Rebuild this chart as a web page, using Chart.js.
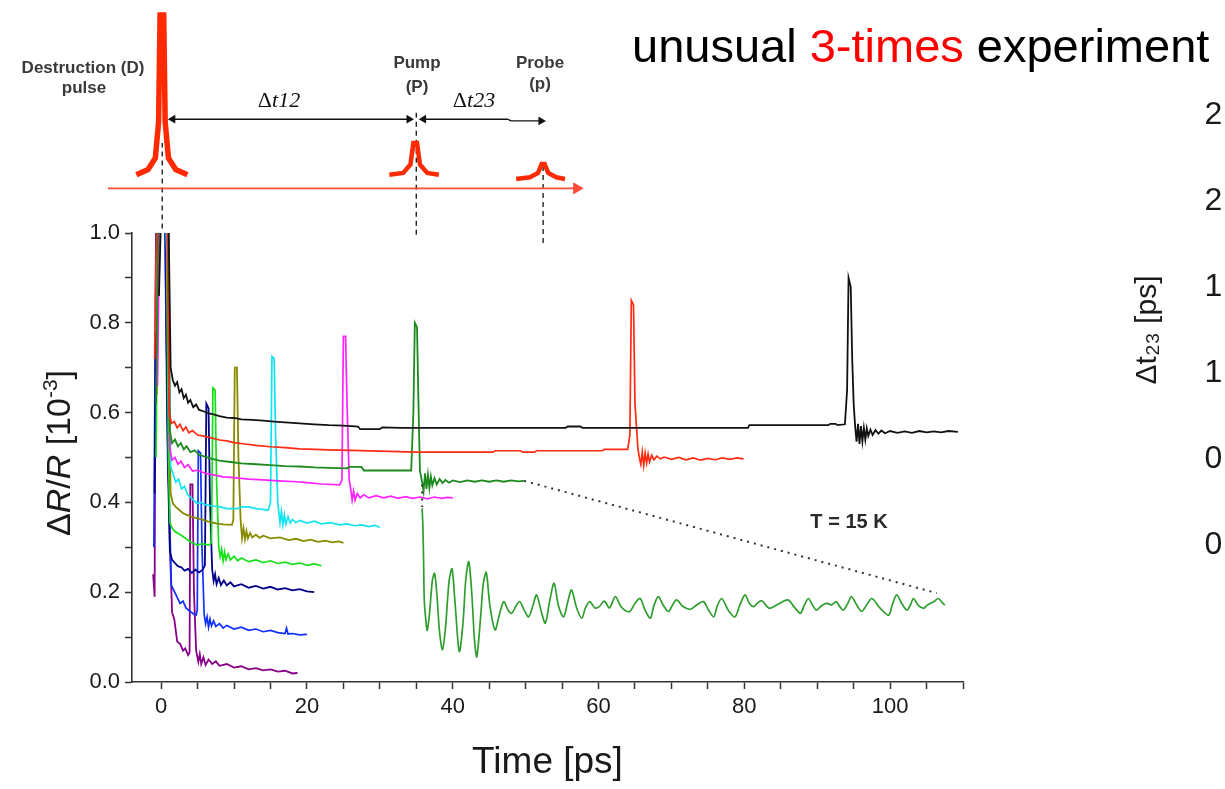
<!DOCTYPE html>
<html>
<head>
<meta charset="utf-8">
<script src="https://cdn.jsdelivr.net/npm/chart.js@4.4.1/dist/chart.umd.min.js"></script>
<style>
  html, body { margin: 0; padding: 0; background: #ffffff; overflow: hidden; }
  #wrap { position: relative; width: 1225px; height: 789px; overflow: hidden; }
  #main { position: absolute; left: 0; top: 0; }
  #scheme { position: absolute; left: 0; top: 0; }
  #side { position: absolute; left: 1080px; top: 0; }
</style>
</head>
<body>
<div id="wrap">
  <canvas id="main" width="1225" height="789"></canvas>
  <canvas id="scheme" width="1225" height="252"></canvas>
  <canvas id="side" width="300" height="789"></canvas>
</div>
<script>
// ---- tick labels ----
const timeTickLabels = [0, 20, 40, 60, 80, 100];
const signalTickLabels = [0.0, 0.2, 0.4, 0.6, 0.8, 1.0];
const dt23TickLabels = [0.0, 0.5, 1.0, 1.5, 2.0, 2.5];

// ---- measured traces [time ps, dR/R 1e-3], one per delay dt12 ----
const traceBlack = [[-0.3,0.86],[0.0,1.05],[1.0,1.05],[1.3,0.70],[1.6,0.672],[1.9,0.66],[2.2,0.668],[2.5,0.645],[2.8,0.652],[3.1,0.632],[3.4,0.64],[3.7,0.622],[4.0,0.628],[4.4,0.612],[4.8,0.618],[5.2,0.606],[5.8,0.603],[6.5,0.598],[7.2,0.596],[8.0,0.592],[9.0,0.589],[10.0,0.588],[11.0,0.585],[12.5,0.584],[14.0,0.582],[15.5,0.580],[17.0,0.578],[19.0,0.576],[21.0,0.574],[23.0,0.572],[25.0,0.571],[27.0,0.569],[27.3,0.563],[30.0,0.563],[30.3,0.567],[33.0,0.566],[55.5,0.566],[55.8,0.569],[57.5,0.569],[57.8,0.566],[80.5,0.566],[80.7,0.572],[91.5,0.572],[91.8,0.575],[92.5,0.575],[92.8,0.572],[93.8,0.574],[94.1,0.65],[94.3,0.90],[94.6,0.88],[94.8,0.72],[95.0,0.62],[95.2,0.57],[95.4,0.535],[95.6,0.575],[95.8,0.530],[96.0,0.570],[96.2,0.536],[96.4,0.566],[96.6,0.540],[96.8,0.565],[97.0,0.548],[97.3,0.562],[97.6,0.550],[98.0,0.561],[98.4,0.553],[98.8,0.560],[99.3,0.554],[100,0.559],[101,0.555],[102,0.558],[103,0.555],[104,0.559],[105,0.556],[106,0.558],[107,0.556],[108,0.559],[109.3,0.557]];
const traceRed = [[-0.9,0.72],[-0.6,1.05],[0.8,1.05],[1.1,0.60],[1.4,0.576],[1.8,0.58],[2.2,0.566],[2.6,0.574],[3.0,0.56],[3.4,0.568],[3.8,0.555],[4.3,0.56],[5.0,0.55],[6.0,0.547],[7.0,0.543],[8.0,0.539],[9.0,0.537],[10.0,0.533],[11.5,0.53],[13.0,0.527],[15.0,0.524],[17.0,0.522],[19.0,0.519],[21.0,0.518],[23.0,0.517],[26.0,0.516],[30.0,0.514],[35.0,0.512],[45.5,0.512],[45.8,0.515],[49.3,0.515],[49.6,0.512],[51.2,0.512],[51.5,0.515],[60.5,0.515],[60.8,0.518],[64.0,0.518],[64.3,0.55],[64.5,0.85],[64.8,0.84],[65.0,0.62],[65.4,0.52],[65.6,0.50],[65.8,0.485],[66.0,0.512],[66.2,0.482],[66.4,0.51],[66.6,0.488],[66.8,0.508],[67.0,0.49],[67.3,0.505],[67.6,0.495],[68.0,0.503],[68.5,0.497],[69,0.501],[70,0.496],[71,0.5],[72,0.495],[73,0.499],[74,0.494],[75,0.498],[76,0.495],[77,0.499],[78,0.496],[79,0.499],[79.9,0.497]];
const traceDarkGreen = [[-0.7,0.62],[-0.4,1.05],[1.0,1.05],[1.2,0.56],[1.5,0.532],[1.9,0.54],[2.3,0.525],[2.7,0.532],[3.1,0.518],[3.5,0.525],[4.0,0.512],[4.6,0.516],[5.2,0.506],[6.0,0.502],[7.0,0.497],[8.0,0.493],[9.5,0.49],[11.0,0.487],[13.0,0.485],[15.0,0.483],[17.0,0.481],[19.0,0.48],[21.0,0.478],[23.0,0.477],[25.5,0.476],[25.8,0.479],[27.5,0.479],[27.8,0.471],[34.3,0.471],[34.6,0.60],[34.8,0.80],[35.1,0.79],[35.3,0.62],[35.5,0.47],[35.8,0.445],[36.0,0.425],[36.2,0.465],[36.4,0.43],[36.6,0.462],[36.8,0.432],[37.0,0.458],[37.2,0.438],[37.5,0.454],[37.8,0.44],[38.2,0.452],[38.6,0.443],[39.0,0.45],[39.5,0.444],[40,0.449],[41,0.445],[42,0.449],[43,0.446],[44,0.449],[45,0.446],[46,0.449],[47,0.446],[48,0.449],[49,0.447],[49.8,0.448]];
const traceMagenta = [[-0.5,0.66],[-0.2,1.05],[0.9,1.05],[1.2,0.52],[1.5,0.494],[1.9,0.50],[2.3,0.485],[2.7,0.492],[3.2,0.478],[3.7,0.484],[4.3,0.47],[5.0,0.472],[6.0,0.465],[7.0,0.462],[8.5,0.457],[10,0.455],[12,0.452],[14,0.45],[16,0.448],[18.6,0.446],[20,0.444],[22,0.441],[24.5,0.439],[24.8,0.45],[25.0,0.77],[25.3,0.77],[25.5,0.62],[25.8,0.45],[26.0,0.43],[26.2,0.405],[26.4,0.425],[26.6,0.405],[26.9,0.42],[27.3,0.41],[27.8,0.417],[28.5,0.41],[29.5,0.415],[30.5,0.41],[31.5,0.414],[32.5,0.409],[33.5,0.413],[34.5,0.409],[35.5,0.412],[36.5,0.408],[37.5,0.412],[38.5,0.409],[39.3,0.411],[40.0,0.41]];
const traceCyan = [[-0.8,0.78],[-0.5,1.05],[0.6,1.05],[1.0,0.85],[1.3,0.48],[1.6,0.465],[2.0,0.445],[2.4,0.452],[2.8,0.43],[3.2,0.436],[3.6,0.418],[4.1,0.41],[4.9,0.398],[5.5,0.40],[6.0,0.395],[7.0,0.392],[8.1,0.39],[9.0,0.386],[10.4,0.386],[11.0,0.39],[12.0,0.39],[13.0,0.386],[14.7,0.383],[15.0,0.40],[15.2,0.725],[15.5,0.72],[15.7,0.55],[16.0,0.40],[16.3,0.355],[16.5,0.38],[16.7,0.35],[16.9,0.372],[17.1,0.352],[17.4,0.368],[17.7,0.354],[18.0,0.362],[18.5,0.355],[19.0,0.36],[20.0,0.354],[21.0,0.358],[22.0,0.352],[23.2,0.355],[24.5,0.35],[25.5,0.352],[26.5,0.348],[27.5,0.35],[28.5,0.346],[29.3,0.349],[30.0,0.344]];
const traceOlive = [[-0.6,0.64],[-0.3,1.05],[0.9,1.05],[1.1,0.6],[1.3,0.42],[1.6,0.398],[2.0,0.39],[2.5,0.383],[3.0,0.376],[3.5,0.372],[4.2,0.368],[4.9,0.365],[5.5,0.362],[6.5,0.357],[7.6,0.353],[8.5,0.351],[9.7,0.35],[9.9,0.36],[10.1,0.70],[10.4,0.70],[10.6,0.50],[10.9,0.36],[11.1,0.32],[11.3,0.342],[11.5,0.318],[11.7,0.336],[11.9,0.32],[12.2,0.332],[12.5,0.322],[13.0,0.328],[13.5,0.321],[14.0,0.326],[15.0,0.32],[16.3,0.322],[17.5,0.316],[18.5,0.319],[19.5,0.314],[20.5,0.317],[21.5,0.312],[22.5,0.315],[23.5,0.311],[24.4,0.313],[25.0,0.31]];
const traceGreen = [[-0.7,0.50],[-0.4,1.05],[0.7,1.05],[1.0,0.5],[1.2,0.355],[1.5,0.343],[1.9,0.335],[2.4,0.33],[2.9,0.325],[3.5,0.318],[4.2,0.31],[5.0,0.305],[5.6,0.308],[6.5,0.305],[6.9,0.31],[7.1,0.655],[7.4,0.65],[7.6,0.45],[7.9,0.30],[8.1,0.279],[8.3,0.295],[8.5,0.27],[8.7,0.29],[8.9,0.272],[9.2,0.285],[9.5,0.272],[10.0,0.28],[10.5,0.27],[11.0,0.276],[12.0,0.268],[13.0,0.272],[14.0,0.266],[15.0,0.27],[16.0,0.264],[17.0,0.267],[18.0,0.262],[19.0,0.265],[20.0,0.26],[21.0,0.263],[22.0,0.259]];
const traceNavy = [[-0.9,0.42],[-0.6,1.05],[0.6,1.05],[0.9,0.5],[1.2,0.29],[1.5,0.272],[1.9,0.265],[2.3,0.258],[2.8,0.255],[3.2,0.248],[3.7,0.252],[4.2,0.243],[4.7,0.25],[5.2,0.244],[5.7,0.25],[6.0,0.26],[6.2,0.62],[6.5,0.61],[6.7,0.40],[7.0,0.25],[7.2,0.225],[7.4,0.24],[7.6,0.218],[7.9,0.232],[8.2,0.216],[8.6,0.226],[9.0,0.215],[9.5,0.222],[10.0,0.213],[11.0,0.218],[12.0,0.21],[13.0,0.214],[14.0,0.208],[15.0,0.212],[16.0,0.206],[17.0,0.209],[18.0,0.204],[19.0,0.207],[20.0,0.202],[21.0,0.2]];
const traceBlue = [[-1.0,0.30],[-0.7,1.05],[0.5,1.05],[0.8,0.6],[1.1,0.4],[1.4,0.215],[2.0,0.195],[2.6,0.175],[3.0,0.18],[3.4,0.165],[3.9,0.158],[4.4,0.152],[4.8,0.149],[4.95,0.16],[5.1,0.515],[5.4,0.51],[5.6,0.30],[5.9,0.15],[6.1,0.13],[6.3,0.145],[6.5,0.122],[6.7,0.14],[6.9,0.125],[7.2,0.136],[7.5,0.124],[8.0,0.13],[8.5,0.12],[9.0,0.126],[10.0,0.118],[11.0,0.122],[12.0,0.115],[13.0,0.118],[14.0,0.112],[15.0,0.115],[16.0,0.11],[17.0,0.108],[17.2,0.12],[17.4,0.107],[18.0,0.108],[19.0,0.105],[20.0,0.106]];
const tracePurple = [[-1.1,0.24],[-0.9,0.19],[-0.7,1.05],[0.5,1.05],[0.8,0.7],[1.2,0.3],[1.5,0.155],[1.8,0.14],[2.2,0.09],[2.6,0.085],[3.0,0.07],[3.3,0.075],[3.7,0.06],[3.9,0.065],[4.0,0.44],[4.3,0.44],[4.5,0.2],[4.8,0.07],[5.1,0.045],[5.3,0.062],[5.5,0.04],[5.8,0.055],[6.1,0.038],[6.5,0.05],[7.0,0.04],[7.5,0.046],[8.0,0.036],[9.0,0.04],[10.0,0.032],[11.0,0.035],[12.0,0.028],[13.0,0.031],[14.0,0.026],[15.0,0.028],[16.0,0.023],[17.0,0.025],[18.0,0.019],[18.7,0.02]];
// magnified probe response of the dt12 = 35 ps trace
const traceZoomed = [[35.8,0.387],[35.9,0.35],[36.0,0.272],[36.1,0.18],[36.3,0.14],[36.5,0.115],[36.8,0.15],[37.2,0.225],[37.5,0.242],[37.8,0.2],[38.2,0.11],[38.6,0.072],[39.0,0.12],[39.5,0.225],[39.9,0.252],[40.3,0.18],[40.9,0.068],[41.4,0.13],[41.8,0.23],[42.2,0.268],[42.6,0.2],[43.0,0.09],[43.3,0.056],[43.8,0.14],[44.2,0.22],[44.6,0.244],[45.1,0.17],[45.8,0.116],[46.4,0.15],[47.0,0.179],[47.6,0.16],[48.1,0.153],[48.7,0.17],[49.2,0.179],[49.8,0.16],[50.4,0.145],[51.0,0.17],[51.5,0.194],[52.1,0.16],[52.7,0.131],[53.3,0.18],[53.9,0.22],[54.5,0.17],[55.2,0.145],[55.8,0.18],[56.3,0.205],[57.0,0.165],[57.7,0.142],[58.2,0.165],[58.8,0.179],[59.5,0.165],[60.1,0.168],[60.8,0.18],[61.5,0.165],[62.3,0.19],[63.0,0.17],[63.6,0.16],[64.3,0.157],[65.0,0.175],[65.7,0.186],[66.4,0.16],[67.1,0.142],[67.6,0.17],[68.2,0.19],[68.9,0.17],[69.6,0.157],[70.1,0.17],[70.7,0.183],[71.6,0.168],[72.6,0.162],[73.5,0.172],[74.4,0.179],[75.1,0.16],[75.8,0.145],[76.3,0.17],[76.9,0.186],[77.8,0.16],[78.7,0.145],[79.4,0.172],[80.1,0.194],[80.7,0.175],[81.3,0.168],[81.8,0.176],[82.4,0.181],[83.0,0.17],[83.5,0.164],[84.8,0.175],[86.0,0.183],[86.8,0.168],[87.7,0.153],[88.2,0.17],[88.8,0.186],[89.4,0.17],[89.9,0.16],[90.6,0.17],[91.3,0.175],[92.0,0.172],[92.6,0.179],[93.1,0.168],[93.6,0.16],[94.2,0.175],[94.7,0.19],[95.4,0.172],[96.1,0.157],[96.8,0.172],[97.5,0.186],[98.6,0.165],[99.8,0.149],[100.3,0.172],[100.9,0.194],[101.6,0.175],[102.3,0.16],[102.8,0.172],[103.2,0.186],[103.9,0.17],[104.6,0.164],[105.0,0.17],[105.5,0.175],[106.1,0.18],[106.6,0.186],[107.1,0.178],[107.5,0.171]];
const zoomGuide = [[49.8,0.448],[106.4,0.198]];
const zoomGuideDrop = [[35.8,0.44],[35.8,0.39]];

// ---- pulse scheme above the plot (same time axis, same signal units) ----
const schemeAxis = [[-7.3,1.094],[57.0,1.094]];
const destructionPulse = [[-3.4,1.126],[-1.8,1.138],[-0.8,1.165],[-0.35,1.25],[-0.15,1.50],[0.35,1.50],[0.55,1.25],[1.0,1.165],[2.0,1.138],[3.6,1.126]];
const pumpPulse = [[31.3,1.126],[33.2,1.13],[34.2,1.15],[34.6,1.2],[35.1,1.2],[35.5,1.15],[36.5,1.13],[38.1,1.126]];
const probePulse = [[48.7,1.116],[50.6,1.12],[51.7,1.13],[52.2,1.151],[52.6,1.151],[53.1,1.13],[54.2,1.12],[55.4,1.116]];
const destructionMark = [[0.15,1.0],[0.15,1.2]];
const pumpMark = [[35.0,0.985],[35.0,1.28]];
const probeMark = [[52.4,0.966],[52.4,1.145]];
const dt12Arrow = [[1.6,1.256],[34.0,1.256]];
const dt23Arrow = [[36.0,1.256],[47.5,1.256],[48.0,1.252],[52.1,1.252]];

const FONT = 'Arial, "Liberation Sans", sans-serif';
Chart.defaults.font.family = FONT;
Chart.defaults.color = '#1a1a1a';

function trace(data, color, width, tension) {
  return { data: data, borderColor: color, borderWidth: width || 1.7, pointRadius: 0, tension: tension || 0, fill: false };
}

function dashed(data, color, dash, width) {
  return { data: data, borderColor: color, borderWidth: width || 1.5, borderDash: dash, pointRadius: 0, fill: false, clip: false };
}

function arrow(data, color, width, size, both) {
  return {
    data: data, borderColor: color, backgroundColor: color, borderWidth: width, fill: false, clip: false,
    pointStyle: 'triangle', pointBorderWidth: 0, pointBorderColor: color, pointBackgroundColor: color,
    pointRadius: function(ctx) {
      const last = ctx.dataset.data.length - 1;
      if (ctx.dataIndex === last) return size;
      return both && ctx.dataIndex === 0 ? size : 0;
    },
    pointRotation: function(ctx) { return ctx.dataIndex === 0 ? -90 : 90; }
  };
}

function drawRuns(ctx, x, y, runs, align) {
  let total = 0;
  runs.forEach(function(r) { ctx.font = r.font; r.w = ctx.measureText(r.text).width; total += r.w; });
  let cx = align === 'center' ? x - total / 2 : x;
  ctx.textAlign = 'left';
  ctx.textBaseline = 'alphabetic';
  runs.forEach(function(r) {
    ctx.font = r.font;
    ctx.fillStyle = r.color || '#1a1a1a';
    ctx.fillText(r.text, cx, y + (r.dy || 0));
    cx += r.w;
  });
}

const labelsPlugin = {
  id: 'labels',
  afterDraw: function(chart) {
    const ctx = chart.ctx;
    ctx.save();
    // headline
    const big = '47px ' + FONT;
    drawRuns(ctx, 632, 62, [
      { text: 'unusual ', font: big, color: '#000' },
      { text: '3-times', font: big, color: '#ff0000' },
      { text: ' experiment', font: big, color: '#000' }
    ], 'left');

    // scheme labels
    const small = 'bold 17px ' + FONT;
    const grey = '#3a3a3a';
    drawRuns(ctx, 83, 73, [{ text: 'Destruction (D)', font: small, color: grey }], 'center');
    drawRuns(ctx, 84, 93, [{ text: 'pulse', font: small, color: grey }], 'center');
    drawRuns(ctx, 417, 68, [{ text: 'Pump', font: small, color: grey }], 'center');
    drawRuns(ctx, 417, 92, [{ text: '(P)', font: small, color: grey }], 'center');
    drawRuns(ctx, 540, 68, [{ text: 'Probe', font: small, color: grey }], 'center');
    drawRuns(ctx, 540, 89, [{ text: '(p)', font: small, color: grey }], 'center');
    const serif = '22px "Liberation Serif", "Times New Roman", serif';
    const serifIt = 'italic 22px "Liberation Serif", "Times New Roman", serif';
    drawRuns(ctx, 279, 107, [
      { text: '\u0394', font: serif, color: '#111' },
      { text: 't12', font: serifIt, color: '#111' }
    ], 'center');
    drawRuns(ctx, 474, 107, [
      { text: '\u0394', font: serif, color: '#111' },
      { text: 't23', font: serifIt, color: '#111' }
    ], 'center');

    // temperature note
    drawRuns(ctx, 849, 528, [{ text: 'T = 15 K', font: 'bold 20px ' + FONT, color: '#2a2a2a' }], 'center');

    // y axis title
    ctx.translate(58, 453);
    ctx.rotate(-Math.PI / 2);
    const t = '34px ' + FONT;
    const ti = 'italic 34px ' + FONT;
    drawRuns(ctx, 0, 12, [
      { text: '\u0394', font: t },
      { text: 'R', font: ti },
      { text: '/', font: t },
      { text: 'R', font: ti },
      { text: ' [10', font: t },
      { text: '-3', font: '21px ' + FONT, dy: -13 },
      { text: ']', font: t }
    ], 'center');
    ctx.restore();
  }
};

const timeAxisBase = { type: 'linear', min: -4, max: 110 };

new Chart(document.getElementById('main'), {
  type: 'line',
  data: {
    datasets: [
      dashed(zoomGuide, '#333', [2, 5], 2),
      dashed(zoomGuideDrop, '#333', [2, 5], 2),
      trace(traceBlack, '#111111', 1.8),
      trace(traceRed, '#ff2a10'),
      trace(traceDarkGreen, '#1c8a1c', 1.8),
      trace(traceMagenta, '#ff22ff'),
      trace(traceCyan, '#10e4f4'),
      trace(traceOlive, '#8a8a00', 1.8),
      trace(traceGreen, '#18e018'),
      trace(traceNavy, '#00008a', 1.8),
      trace(traceBlue, '#1030ff'),
      trace(tracePurple, '#880088', 1.8),
      trace(traceZoomed, '#2e9e2e', 1.7, 0.3)
    ]
  },
  options: {
    responsive: false,
    animation: false,
    events: [],
    devicePixelRatio: 1,
    layout: { padding: { left: 0, top: 233, right: 262, bottom: 0 } },
    plugins: { legend: { display: false }, tooltip: { enabled: false } },
    scales: {
      x: Object.assign({}, timeAxisBase, {
        afterFit: function(scale) { scale.height = 107; },
        border: { display: true, color: '#333', width: 1.6 },
        grid: { drawOnChartArea: false, drawTicks: true, tickLength: 7, tickColor: '#333', tickWidth: 1.5 },
        ticks: {
          stepSize: 5,
          includeBounds: false,
          autoSkip: false,
          maxRotation: 0,
          minRotation: 0,
          padding: 5,
          color: '#1a1a1a',
          font: { size: 22 },
          callback: function(v) { return timeTickLabels.indexOf(v) >= 0 ? String(v) : ''; }
        },
        title: { display: true, text: 'Time [ps]', color: '#1a1a1a', font: { size: 37 }, padding: { top: 0, bottom: 4 } }
      }),
      y: {
        min: 0,
        max: 1,
        afterFit: function(scale) { scale.width = 132; },
        border: { display: true, color: '#333', width: 1.6 },
        grid: { drawOnChartArea: false, drawTicks: true, tickLength: 7, tickColor: '#333', tickWidth: 1.5 },
        ticks: {
          stepSize: 0.1,
          padding: 5,
          color: '#1a1a1a',
          font: { size: 22 },
          callback: function(v) {
            const r = Math.round(v * 10) / 10;
            return signalTickLabels.indexOf(r) >= 0 ? r.toFixed(1) : '';
          }
        }
      }
    }
  },
  plugins: [labelsPlugin]
});

// pulse scheme: same time scale, signal range continued above 1.0
new Chart(document.getElementById('scheme'), {
  type: 'line',
  data: {
    datasets: [
      arrow(schemeAxis, '#ff4a3a', 1.8, 7, false),
      trace(destructionPulse, '#ff2a00', 5.5),
      trace(pumpPulse, '#ff2a00', 4.5),
      trace(probePulse, '#ff2a00', 4.5),
      dashed(destructionMark, '#222', [5, 4], 1.4),
      dashed(pumpMark, '#222', [5, 4], 1.4),
      dashed(probeMark, '#222', [5, 4], 1.4),
      arrow(dt12Arrow, '#111', 1.4, 5, true),
      arrow(dt23Arrow, '#111', 1.4, 5, true)
    ].map(function(d) { d.clip = false; return d; })
  },
  options: {
    responsive: false,
    animation: false,
    events: [],
    devicePixelRatio: 1,
    layout: { padding: { left: 132, top: 0, right: 262, bottom: 0 } },
    plugins: { legend: { display: false }, tooltip: { enabled: false } },
    scales: {
      x: Object.assign({}, timeAxisBase, { display: false }),
      y: { display: false, min: 0.9612, max: 1.5189 }
    }
  }
});

// second panel, cut off by the right edge of the picture
new Chart(document.getElementById('side'), {
  type: 'scatter',
  data: { datasets: [] },
  options: {
    responsive: false,
    animation: false,
    events: [],
    devicePixelRatio: 1,
    layout: { padding: { left: 0, top: 115, right: 0, bottom: 244 } },
    plugins: { legend: { display: false }, tooltip: { enabled: false } },
    scales: {
      x: { display: false, min: 0, max: 1 },
      y: {
        min: 0,
        max: 2.5,
        afterFit: function(scale) { scale.width = 180; },
        border: { display: false },
        grid: { display: false, drawTicks: false },
        ticks: {
          stepSize: 0.5,
          padding: 11,
          color: '#1a1a1a',
          font: { size: 32 },
          callback: function(v) {
            const r = Math.round(v * 10) / 10;
            return dt23TickLabels.indexOf(r) >= 0 ? r.toFixed(1) : '';
          }
        },
        title: { display: true, text: '\u0394t\u2082\u2083 [ps]', color: '#1a1a1a', font: { size: 30 }, padding: { top: 50, bottom: 0 } }
      }
    }
  }
});
</script>
</body>
</html>
